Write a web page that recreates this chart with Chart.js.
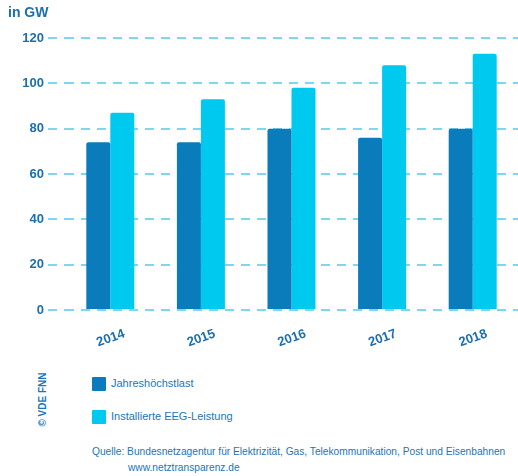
<!DOCTYPE html>
<html>
<head>
<meta charset="utf-8">
<script src="https://cdn.jsdelivr.net/npm/chart.js@4/dist/chart.umd.min.js"></script>
<style>
  body { margin: 0; background: #fff; font-family: "Liberation Sans", Arial, sans-serif; }
  #wrap { position: relative; width: 518px; height: 476px; overflow: hidden; }
  #chartBox { position: absolute; left: 0; top: 0; width: 518px; height: 350px; }
  #unit { position: absolute; left: 8px; top: 4px; font-size: 14px; color: #1b6fae; font-weight: bold; }
  .leg { position: absolute; left: 92px; font-size: 11px; color: #1b75bb; }
  .leg span { display: inline-block; width: 14px; height: 14px; vertical-align: middle; margin-right: 5px; border-radius: 1px; }
  #copy { position: absolute; left: 15px; top: 394px; transform: rotate(-90deg); font-size: 10px; color: #1b75bb; font-weight: bold; white-space: nowrap; }
  #src { position: absolute; left: 92px; top: 444px; font-size: 10.2px; color: #1b75bb; line-height: 16px; white-space: nowrap; }
</style>
</head>
<body>
<div id="wrap">
  <div id="chartBox"><canvas id="c"></canvas></div>
  <div id="unit">in GW</div>
  <div class="leg" style="top:377px"><span style="background:#0a7cbc"></span>Jahreshöchstlast</div>
  <div class="leg" style="top:410px"><span style="background:#00c9ef"></span>Installierte EEG-Leistung</div>
  <div id="copy">© VDE FNN</div>
  <div id="src">Quelle: Bundesnetzagentur für Elektrizität, Gas, Telekommunikation, Post und Eisenbahnen<br><span style="padding-left:36px">www.netztransparenz.de</span></div>
</div>
<script>
// Jahre und Werte (GW)
const years = ["2014", "2015", "2016", "2017", "2018"];
const peakLoad = [74, 74, 80, 76, 80];
const eegCapacity = [87, 93, 98, 108, 113];
const yTicks = [0, 20, 40, 60, 80, 100, 120];

const darkBlue = "#0a7cbc";
const lightBlue = "#00c9ef";
const gridBlue = "#7dd6f2";

new Chart(document.getElementById("c"), {
  type: "bar",
  data: {
    labels: years,
    datasets: [
      { label: "Jahreshöchstlast", data: peakLoad, backgroundColor: darkBlue,
        borderRadius: 2, barPercentage: 1, categoryPercentage: 0.53 },
      { label: "Installierte EEG-Leistung", data: eegCapacity, backgroundColor: lightBlue,
        borderRadius: 2, barPercentage: 1, categoryPercentage: 0.53 }
    ]
  },
  options: {
    responsive: true,
    maintainAspectRatio: false,
    animation: false,
    layout: { padding: { top: 38, right: 0, left: 0, bottom: 0 } },
    plugins: { legend: { display: false }, tooltip: { enabled: false } },
    scales: {
      x: {
        afterFit: (axis) => { axis.height = 40; },
        grid: { display: false },
        border: { display: false },
        ticks: {
          color: "#1b6fae",
          font: { family: "Liberation Sans", size: 13, weight: "bold" },
          minRotation: 20, maxRotation: 20, padding: 8, labelOffset: 14
        }
      },
      y: {
        min: 0, max: 120,
        afterFit: (axis) => { axis.width = 65; },
        afterBuildTicks: (axis) => { axis.ticks = yTicks.map(v => ({ value: v })); },
        border: { display: false, dash: [9, 7] },
        grid: {
          color: gridBlue, lineWidth: 2, drawTicks: true, tickLength: 17,
          tickColor: gridBlue, tickBorderDash: [9, 7]
        },
        ticks: {
          color: "#1b6fae",
          font: { family: "Liberation Sans", size: 13, weight: "bold" },
          padding: 4
        }
      }
    }
  }
});
</script>
</body>
</html>
